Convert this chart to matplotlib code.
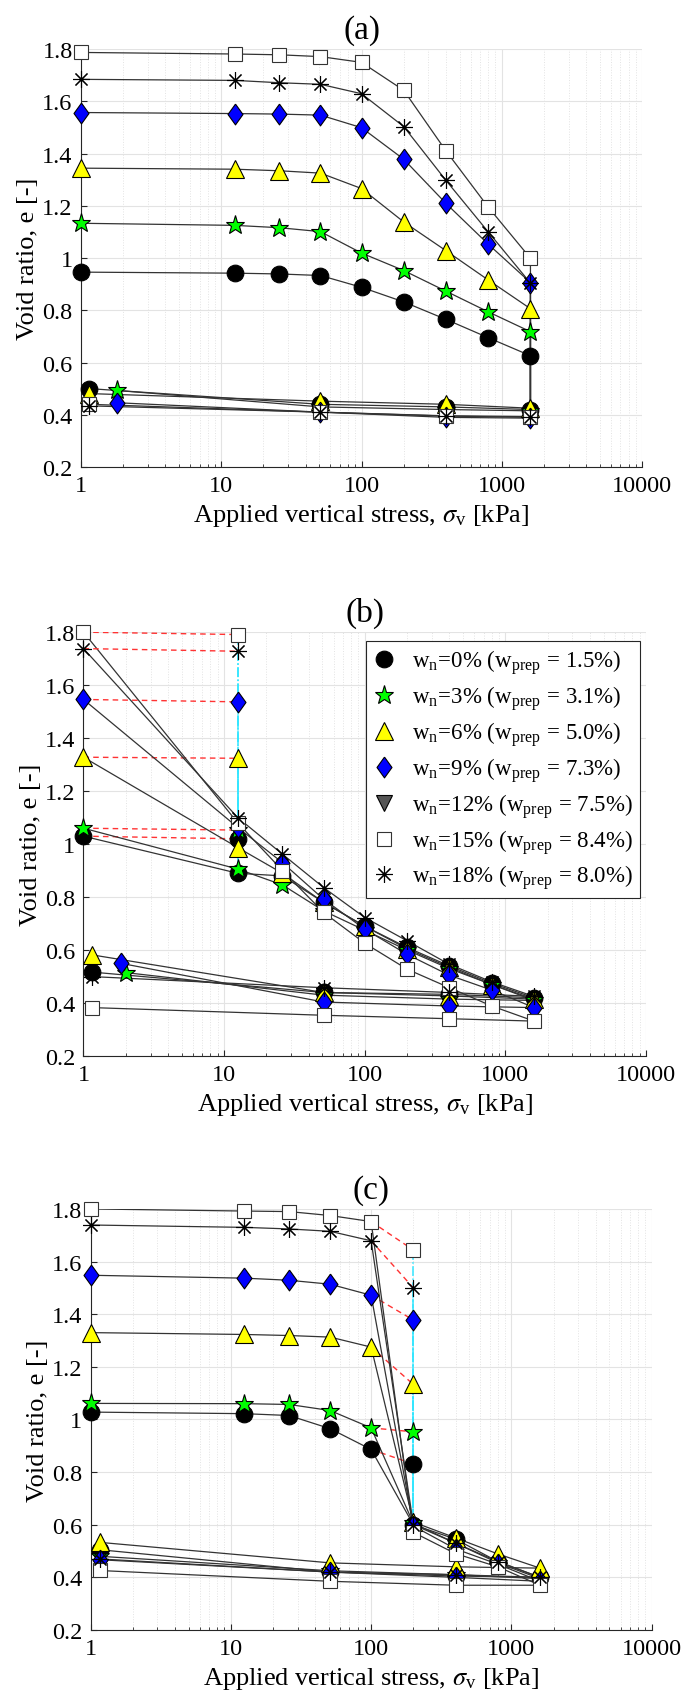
import numpy as np
import matplotlib.pyplot as plt
from matplotlib.lines import Line2D
from matplotlib.ticker import LogLocator, NullFormatter, FixedLocator, FuncFormatter

plt.rcParams['font.family'] = ['Liberation Serif', 'DejaVu Serif']
plt.rcParams['mathtext.fontset'] = 'stix'

# ---------------- data ----------------
names = ['w0', 'w3', 'w6', 'w9', 'w12', 'w15', 'w18']
legend_labels = [
    r'w$_\mathregular{n}$=0% (w$_\mathregular{prep}$ = 1.5%)',
    r'w$_\mathregular{n}$=3% (w$_\mathregular{prep}$ = 3.1%)',
    r'w$_\mathregular{n}$=6% (w$_\mathregular{prep}$ = 5.0%)',
    r'w$_\mathregular{n}$=9% (w$_\mathregular{prep}$ = 7.3%)',
    r'w$_\mathregular{n}$=12% (w$_\mathregular{prep}$ = 7.5%)',
    r'w$_\mathregular{n}$=15% (w$_\mathregular{prep}$ = 8.4%)',
    r'w$_\mathregular{n}$=18% (w$_\mathregular{prep}$ = 8.0%)',
]

# (a) dry loading
a_load_s = [1, 12.5, 26, 51, 100, 200, 400, 800, 1600]
a_load_e = {
    'w0':  [0.946, 0.942, 0.939, 0.933, 0.888, 0.832, 0.765, 0.695, 0.626],
    'w3':  [1.133, 1.125, 1.116, 1.101, 1.019, 0.952, 0.873, 0.794, 0.718],
    'w6':  [1.344, 1.340, 1.334, 1.325, 1.266, 1.138, 1.028, 0.916, 0.806],
    'w9':  [1.557, 1.553, 1.551, 1.547, 1.499, 1.378, 1.209, 1.053, 0.906],
    'w15': [1.787, 1.781, 1.778, 1.771, 1.749, 1.642, 1.410, 1.195, 0.999],
    'w18': [1.684, 1.680, 1.671, 1.665, 1.629, 1.503, 1.297, 1.100, 0.904],
}
a_unload_s = {'w0': [1600, 400, 51, 1.15], 'w3': [1600, 400, 51, 1.8],
              'w6': [1600, 400, 51, 1.15], 'w9': [1600, 400, 51, 1.8],
              'w15': [1600, 400, 51, 1.15], 'w18': [1600, 400, 51, 1.15]}
a_unload_e = {'w0': [0.420, 0.430, 0.440, 0.500], 'w3': [0.415, 0.420, 0.430, 0.493],
              'w6': [0.425, 0.440, 0.452, 0.481], 'w9': [0.387, 0.390, 0.410, 0.446],
              'w15': [0.390, 0.395, 0.410, 0.440], 'w18': [0.393, 0.396, 0.410, 0.434]}

# (b) wetting at 12.5 kPa
b_start_s = 1
b_wet_s = 12.5
b_start_e = {'w0': 1.030, 'w3': 1.060, 'w6': 1.328, 'w9': 1.546, 'w15': 1.800, 'w18': 1.738}
b_wet_e = {'w0': 1.020, 'w3': 1.053, 'w6': 1.324, 'w9': 1.537, 'w15': 1.791, 'w18': 1.728}
b_load_s = [12.5, 26, 51, 100, 200, 400, 800, 1600]
b_load_e = {
    'w0':  [0.890, 0.880, 0.780, 0.690, 0.610, 0.540, 0.475, 0.420],
    'w3':  [0.906, 0.846, 0.748, 0.675, 0.600, 0.530, 0.470, 0.410],
    'w6':  [0.987, 0.890, 0.780, 0.690, 0.605, 0.535, 0.470, 0.415],
    'w9':  [1.063, 0.930, 0.792, 0.679, 0.584, 0.505, 0.449, 0.383],
    'w15': [1.080, 0.900, 0.742, 0.626, 0.528, 0.458, 0.389, 0.332],
    'w18': [1.100, 0.962, 0.836, 0.723, 0.635, 0.546, 0.480, 0.425],
}
b_unload_s = {'w0': [400, 51, 1.15], 'w3': [400, 51, 2.0], 'w6': [400, 51, 1.15],
              'w9': [400, 51, 1.85], 'w15': [400, 51, 1.15], 'w18': [400, 51, 1.15]}
b_unload_e = {'w0': [0.433, 0.440, 0.517], 'w3': [0.415, 0.430, 0.515],
              'w6': [0.427, 0.440, 0.582], 'w9': [0.389, 0.404, 0.550],
              'w15': [0.341, 0.354, 0.383], 'w18': [0.440, 0.458, 0.500]}

# (c) wetting at 200 kPa
c_load_s = [1, 12.5, 26, 51, 100]
c_load_e = {
    'w0':  [1.028, 1.022, 1.015, 0.965, 0.886],
    'w3':  [1.061, 1.060, 1.057, 1.034, 0.968],
    'w6':  [1.330, 1.323, 1.319, 1.313, 1.275],
    'w9':  [1.548, 1.537, 1.529, 1.514, 1.472],
    'w15': [1.800, 1.792, 1.790, 1.775, 1.752],
    'w18': [1.739, 1.730, 1.724, 1.715, 1.679],
}
c_wet_s = 200
c_wet_e = {'w0': 0.831, 'w3': 0.953, 'w6': 1.133, 'w9': 1.378, 'w15': 1.644, 'w18': 1.500}
c_post_s = [200, 400, 800, 1600]
c_post_e = {
    'w0':  [0.600, 0.545, 0.460, 0.400],
    'w3':  [0.605, 0.530, 0.455, 0.395],
    'w6':  [0.610, 0.550, 0.489, 0.435],
    'w9':  [0.595, 0.508, 0.450, 0.385],
    'w15': [0.571, 0.490, 0.440, 0.370],
    'w18': [0.600, 0.530, 0.460, 0.400],
}
c_unload_s = [400, 51, 1.16]
c_unload_e = {'w0': [0.405, 0.420, 0.505], 'w3': [0.410, 0.425, 0.480],
              'w6': [0.440, 0.455, 0.533], 'w9': [0.400, 0.420, 0.467],
              'w15': [0.370, 0.385, 0.426], 'w18': [0.410, 0.420, 0.470]}

# ---------------- styles ----------------
diamond = [(0, 1), (0.72, 0), (0, -1), (-0.72, 0), (0, 1)]
style = {
    'w0':  dict(marker='o', mfc='black', mec='black', ms=12),
    'w3':  dict(marker='*', mfc='#00ff00', mec='black', ms=14),
    'w6':  dict(marker='^', mfc='#ffff00', mec='black', ms=13),
    'w9':  dict(marker=diamond, mfc='#0000ff', mec='black', ms=15),
    'w12': dict(marker='v', mfc='#555555', mec='black', ms=12),
    'w15': dict(marker='s', mfc='white', mec='#333333', ms=10),
    'w18': dict(marker=(8, 2, 0), mfc='black', mec='black', ms=12),
}
line_kw = dict(color='#333333', lw=0.9)
red_kw = dict(color='#ff3333', lw=1.0, ls=(0, (4, 3)))
cyan_kw = dict(color='#33e6ff', lw=1.1, ls='-.')
order = ['w0', 'w3', 'w6', 'w9', 'w15', 'w18']


def mk(ax, x, y, name, z=3):
    ax.plot(x, y, ls='none', mew=0.8, zorder=z, clip_on=False, **style[name])


def setup(ax, title):
    ax.set_xscale('log')
    ax.set_xlim(1, 10000)
    ax.set_ylim(0.2, 1.8)
    ax.xaxis.set_major_locator(FixedLocator([1, 10, 100, 1000, 10000]))
    ax.xaxis.set_major_formatter(FuncFormatter(lambda v, _: f'{v:g}'))
    ax.xaxis.set_minor_locator(LogLocator(base=10, subs=np.arange(2, 10)))
    ax.xaxis.set_minor_formatter(NullFormatter())
    ax.set_yticks(np.arange(0.2, 1.81, 0.2))
    ax.yaxis.set_major_formatter(FuncFormatter(lambda v, _: f'{round(v, 1):g}'))
    ax.grid(which='major', color='#e3e3e3', lw=0.8)
    ax.grid(which='minor', axis='x', color='#e3e3e3', lw=0.7, ls=':')
    ax.set_axisbelow(True)
    for s in ['top', 'right']:
        ax.spines[s].set_visible(False)
    for s in ['left', 'bottom']:
        ax.spines[s].set_color('#262626')
        ax.spines[s].set_linewidth(0.8)
    ax.tick_params(which='both', direction='in', labelsize=17.5, colors='#262626',
                   top=False, right=False)
    ax.tick_params(which='major', length=4, pad=6)
    ax.tick_params(which='minor', length=2.5)
    for lab in ax.get_xticklabels() + ax.get_yticklabels():
        lab.set_color('black')
    ax.set_xlabel(r'Applied vertical stress, $\sigma_\mathregular{v}$ [kPa]', fontsize=19, labelpad=4)
    ax.set_ylabel('Void ratio, e [-]', fontsize=19, labelpad=2)
    ax.set_title(title, fontsize=24, pad=8)


fig = plt.figure(figsize=(6.86, 17.08), dpi=100)
ax_a = fig.add_axes([0.118, 0.726, 0.818, 0.2447])
ax_b = fig.add_axes([0.1217, 0.3811, 0.820, 0.2482])
ax_c = fig.add_axes([0.132, 0.0451, 0.818, 0.2465])

# (a)
setup(ax_a, '(a)')
for n in order:
    xs = a_load_s + a_unload_s[n]
    ys = a_load_e[n] + a_unload_e[n]
    ax_a.plot(xs, ys, zorder=2, **line_kw)
    mk(ax_a, xs, ys, n)

# (b)
setup(ax_b, '(b)')
for n in order:
    ax_b.plot([b_start_s, b_wet_s], [b_start_e[n], b_wet_e[n]], zorder=2, **red_kw)
    ax_b.plot([b_wet_s, b_load_s[0]], [b_wet_e[n], b_load_e[n][0]], zorder=2, **cyan_kw)
    xs = [b_start_s] + b_load_s + b_unload_s[n]
    ys = [b_start_e[n]] + b_load_e[n] + b_unload_e[n]
    ax_b.plot(xs, ys, zorder=2, **line_kw)
    mk(ax_b, xs, ys, n)
    mk(ax_b, [b_wet_s], [b_wet_e[n]], n)
handles = [Line2D([], [], ls='none', mew=0.8, **style[n]) for n in names]
leg = ax_b.legend(handles, legend_labels, loc='upper right', bbox_to_anchor=(0.989, 0.979),
                  fontsize=16.5, frameon=True, fancybox=False, edgecolor='#262626',
                  framealpha=1, handlelength=1.0, handletextpad=0.7, labelspacing=0.32,
                  borderpad=0.3, borderaxespad=0)
leg.get_frame().set_linewidth(0.8)
leg.set_zorder(5)

# (c)
setup(ax_c, '(c)')
for n in order:
    ax_c.plot([c_load_s[-1], c_wet_s], [c_load_e[n][-1], c_wet_e[n]], zorder=2, **red_kw)
    ax_c.plot([c_wet_s, c_post_s[0]], [c_wet_e[n], c_post_e[n][0]], zorder=2, **cyan_kw)
    xs = c_load_s + c_post_s + c_unload_s
    ys = c_load_e[n] + c_post_e[n] + c_unload_e[n]
    ax_c.plot(xs, ys, zorder=2, **line_kw)
    mk(ax_c, xs, ys, n)
    mk(ax_c, [c_wet_s], [c_wet_e[n]], n)

fig.savefig('out.png', dpi=100)
